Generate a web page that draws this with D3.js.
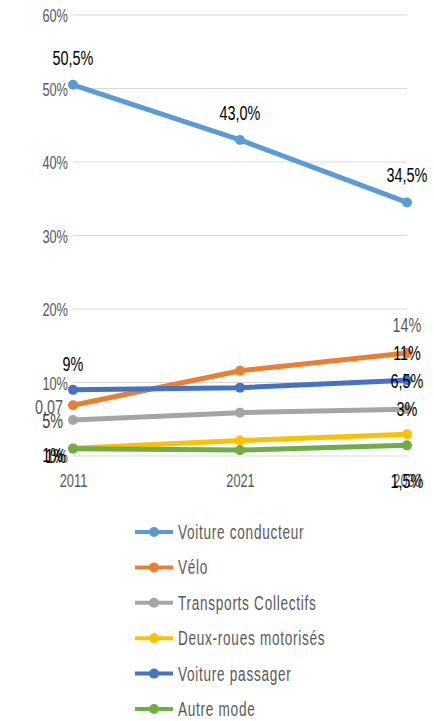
<!DOCTYPE html>
<html>
<head>
<meta charset="utf-8">
<script src="https://cdn.jsdelivr.net/npm/d3@7"></script>
<style>
  html, body { margin: 0; padding: 0; background: #fff; }
  svg { display: block; }
  text { font-family: 'Liberation Sans', Arial, sans-serif; }
</style>
</head>
<body>
<svg id="chart" width="434" height="721"></svg>
<script>
// ---- Data ----
const years = ["2011", "2021", "2030"];
const yTicks = [0, 10, 20, 30, 40, 50, 60];
const seriesNames = ["Voiture conducteur", "Vélo", "Transports Collectifs", "Deux-roues motorisés", "Voiture passager", "Autre mode"];
const voitureConducteur = [50.5, 43.0, 34.5];
const velo = [6.9, 11.6, 14.0];
const transportsCollectifs = [4.9, 5.9, 6.35];
const deuxRoues = [1.05, 2.1, 2.95];
const voiturePassager = [9.0, 9.3, 10.3];
const autreMode = [1.0, 0.8, 1.45];
const seriesColors = ["#5B9BD5", "#ED7D31", "#A5A5A5", "#FFC000", "#4472C4", "#70AD47"];
// data labels: [series index, year index, text]
const dataLabels = [
  [0, 0, "50,5%"], [0, 1, "43,0%"], [0, 2, "34,5%"],
  [1, 0, "0,07"], [1, 2, "14%"], [1, 2, "11%"],
  [4, 0, "9%"], [4, 2, "6,5%"],
  [2, 0, "5%"], [2, 2, "3%"],
  [3, 0, "1%"], [5, 0, "1%"], [5, 2, "1,5%"]
];

const allSeries = [voitureConducteur, velo, transportsCollectifs, deuxRoues, voiturePassager, autreMode];

// ---- Drawing ----
const svg = d3.select("#chart");
const x = d3.scalePoint().domain(years).range([73, 407]);
const y = d3.scaleLinear().domain([0, 60]).range([456, 15]);
const SX = 0.8, SY = 1.16;

function stretchedText(g, tx, ty, str, opts) {
  return g.append("text")
    .attr("transform", `translate(${tx},${ty}) scale(${SX},${SY})`)
    .attr("text-anchor", opts.anchor || "middle")
    .attr("font-size", opts.size)
    .attr("fill", opts.fill)
    .attr("letter-spacing", opts.ls || 0)
    .text(str);
}

// gridlines
const grid = svg.append("g");
grid.selectAll("line").data(yTicks).join("line")
  .attr("x1", x.range()[0]).attr("x2", x.range()[1])
  .attr("y1", d => y(d)).attr("y2", d => y(d))
  .attr("stroke", "#d9d9d9").attr("stroke-width", 1);

// y axis
const yAxis = svg.append("g").attr("transform", "translate(68,0)")
  .call(d3.axisLeft(y).tickValues(yTicks).tickFormat(d => d + "%").tickSize(0).tickPadding(0));
yAxis.select(".domain").remove();
yAxis.selectAll("text")
  .attr("font-size", 16).attr("fill", "#595959")
  .attr("font-family", null)
  .attr("dy", null).attr("x", 0).attr("y", 0)
  .attr("transform", `translate(0,6.5) scale(${SX},${SY})`);

// x axis
const xAxis = svg.append("g").attr("transform", "translate(0,456)")
  .call(d3.axisBottom(x).tickSize(0).tickPadding(0));
xAxis.select(".domain").remove();
xAxis.selectAll("text")
  .attr("font-size", 16).attr("fill", "#595959")
  .attr("font-family", null)
  .attr("dy", null).attr("y", 0)
  .attr("transform", `translate(0,31) scale(${SX},${SY})`);

// lines
const drawOrder = [0, 2, 3, 5, 1, 4];
const line = d3.line().x((d, i) => x(years[i])).y(d => y(d));
const lines = svg.append("g");
drawOrder.forEach(si => {
  const g = lines.append("g");
  g.append("path").datum(allSeries[si])
    .attr("d", line).attr("fill", "none")
    .attr("stroke", seriesColors[si]).attr("stroke-width", 5)
    .attr("stroke-linejoin", "round").attr("stroke-linecap", "round");
  g.selectAll("circle").data(allSeries[si]).join("circle")
    .attr("cx", (d, i) => x(years[i])).attr("cy", d => y(d)).attr("r", 5)
    .attr("fill", seriesColors[si]);
});

// data labels
const lbl = svg.append("g");
dataLabels.forEach(([si, yi, t]) => {
  const px = x(years[yi]), py = y(allSeries[si][yi]);
  let tx = px, ty = py, anchor = "middle", fill = "#000";
  if (si === 0) { ty = py - 20; }
  else if (t === "0,07") { tx = px - 10; ty = py + 9; anchor = "end"; fill = "#595959"; }
  else if (t === "14%") { ty = py - 21; fill = "#595959"; }
  else if (t === "11%") { ty = py + 7; }
  else if (t === "9%") { ty = py - 19; }
  else if (t === "6,5%") { ty = py + 8; }
  else if (t === "5%") { tx = px - 10; ty = py + 8; anchor = "end"; fill = "#404040"; }
  else if (t === "3%") { ty = py + 7; }
  else if (t === "1%") { tx = px - (si === 3 ? 10 : 7); ty = py + 14; anchor = "end"; }
  else if (t === "1,5%") { ty = py + 43; }
  stretchedText(lbl, tx, ty, t, { size: 18, fill, anchor });
});

// legend
const legend = svg.append("g");
seriesNames.forEach((name, i) => {
  const cy = 532 + i * 35.4;
  legend.append("line").attr("x1", 135).attr("x2", 173).attr("y1", cy).attr("y2", cy)
    .attr("stroke", seriesColors[i]).attr("stroke-width", 4);
  legend.append("circle").attr("cx", 154).attr("cy", cy).attr("r", 5).attr("fill", seriesColors[i]);
  stretchedText(legend, 178, cy + 7, name, { size: 17, fill: "#595959", anchor: "start", ls: 0.9 });
});
</script>
</body>
</html>
